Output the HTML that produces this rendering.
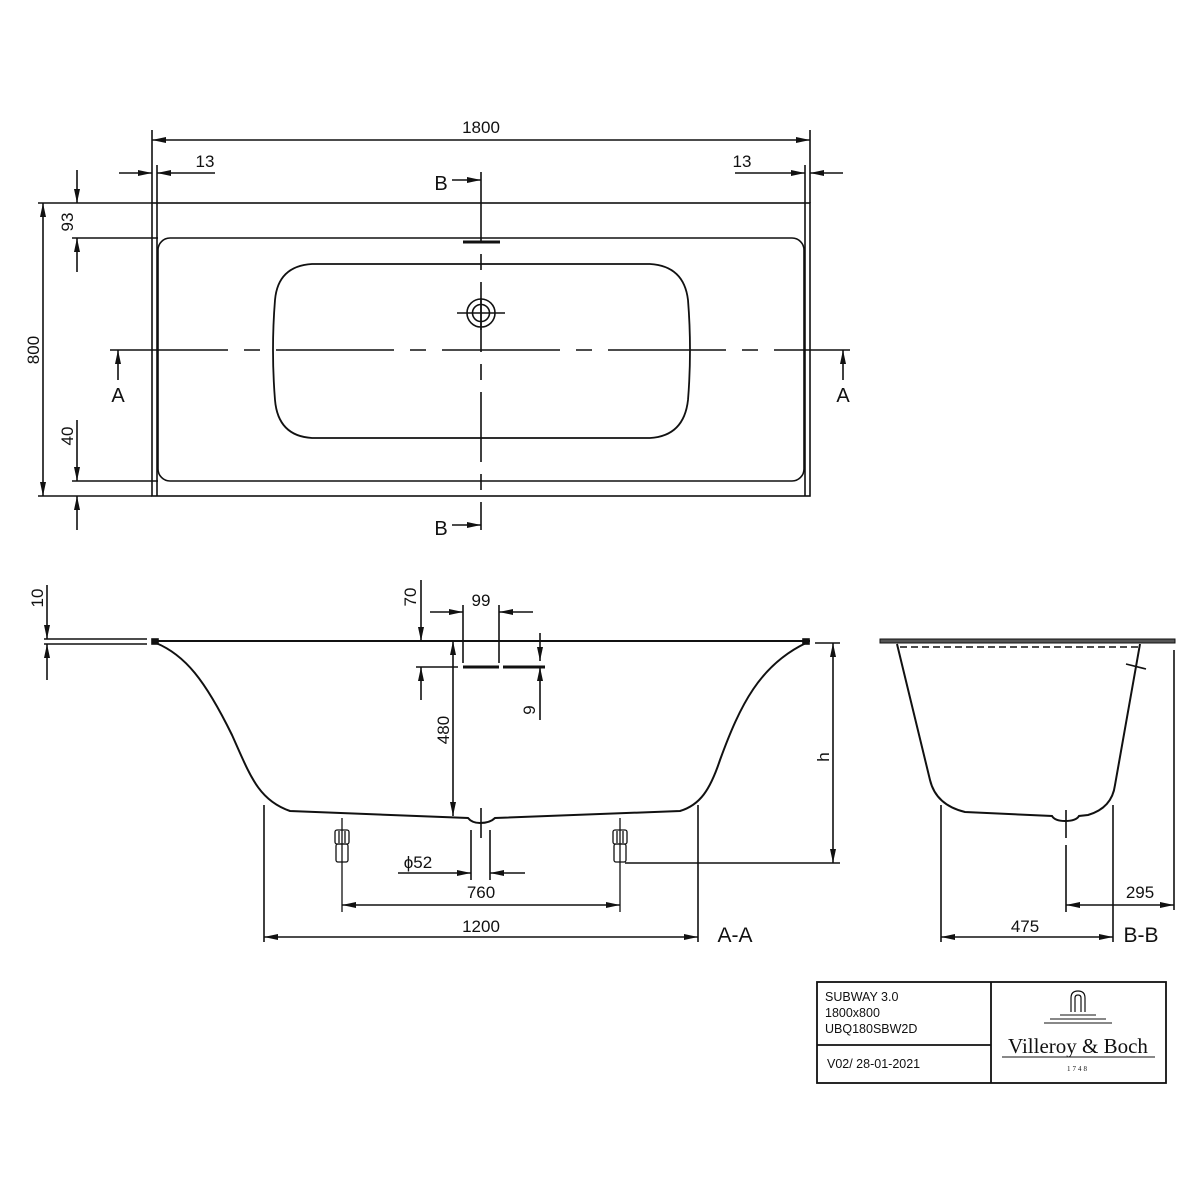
<!DOCTYPE html>
<html><head><meta charset="utf-8"><style>
html,body{margin:0;padding:0;background:#fff;}
svg{display:block}
text{font-family:"Liberation Sans",sans-serif;fill:#111;}
</style></head><body>
<svg width="1200" height="1200" viewBox="0 0 1200 1200" xmlns="http://www.w3.org/2000/svg">
<defs>
<marker id="a" viewBox="0 0 14 6" refX="14" refY="3" markerWidth="14" markerHeight="6" markerUnits="userSpaceOnUse" orient="auto-start-reverse"><path d="M0,0 L14,3 L0,6 z" fill="#111"/></marker>
</defs>
<g stroke="#111" stroke-width="1.6" fill="none">
<!-- TOP VIEW -->
<rect x="152" y="203" width="658" height="293"/>
<line x1="157" y1="203" x2="157" y2="496"/>
<line x1="805" y1="203" x2="805" y2="496"/>
<rect x="158" y="238" width="646" height="243" rx="12"/>
<path d="M312,264 L650,264 Q684,266 688,300 Q692,350 688,400 Q684,436 650,438 L312,438 Q278,436 275,400 Q271,350 275,300 Q278,266 312,264 Z" stroke-width="1.8"/>
<line x1="110" y1="350" x2="850" y2="350" stroke-dasharray="118,16,16,16"/>
<line x1="481" y1="172" x2="481" y2="530" stroke-dasharray="70,12,16,12"/>
<line x1="463" y1="242" x2="500" y2="242" stroke-width="3"/>
<circle cx="481" cy="313" r="14"/><circle cx="481" cy="313" r="8.5"/>
<line x1="457" y1="313" x2="505" y2="313"/><line x1="481" y1="298" x2="481" y2="330"/>
<line x1="452" y1="180" x2="481" y2="180" marker-end="url(#a)"/>
<line x1="452" y1="525" x2="481" y2="525" marker-end="url(#a)"/>
<line x1="118" y1="380" x2="118" y2="350" marker-end="url(#a)"/>
<line x1="843" y1="380" x2="843" y2="350" marker-end="url(#a)"/>
<line x1="152" y1="130" x2="152" y2="203"/><line x1="810" y1="130" x2="810" y2="203"/>
<line x1="152" y1="140" x2="810" y2="140" marker-start="url(#a)" marker-end="url(#a)"/>
<line x1="157" y1="165" x2="157" y2="203"/><line x1="805" y1="165" x2="805" y2="203"/>
<line x1="119" y1="173" x2="152" y2="173" marker-end="url(#a)"/><line x1="215" y1="173" x2="157" y2="173" marker-end="url(#a)"/>
<line x1="735" y1="173" x2="805" y2="173" marker-end="url(#a)"/><line x1="843" y1="173" x2="810" y2="173" marker-end="url(#a)"/>
<line x1="38" y1="203" x2="152" y2="203"/><line x1="38" y1="496" x2="152" y2="496"/>
<line x1="43" y1="203" x2="43" y2="496" marker-start="url(#a)" marker-end="url(#a)"/>
<line x1="72" y1="238" x2="158" y2="238"/><line x1="72" y1="481" x2="158" y2="481"/>
<line x1="77" y1="170" x2="77" y2="203" marker-end="url(#a)"/><line x1="77" y1="272" x2="77" y2="238" marker-end="url(#a)"/>
<line x1="77" y1="420" x2="77" y2="481" marker-end="url(#a)"/><line x1="77" y1="530" x2="77" y2="496" marker-end="url(#a)"/>

<!-- SECTION A-A -->
<line x1="44" y1="639" x2="147" y2="639"/><line x1="44" y1="644" x2="147" y2="644"/>
<line x1="152" y1="641" x2="810" y2="641" stroke-width="2"/>
<rect x="152" y="639" width="6" height="5" fill="#111"/><rect x="803" y="639" width="6" height="5" fill="#111"/>
<path d="M156,643 C185,655 205,680 232,735 C250,775 258,800 290,811 L468,818 Q472,823 480,823 Q490,823 495,818 L680,811 C700,805 710,790 720,760 C740,705 760,665 806,643" stroke-width="2"/>
<line x1="481" y1="808" x2="481" y2="838"/>
<line x1="471" y1="830" x2="471" y2="880"/><line x1="490" y1="830" x2="490" y2="880"/>
<line x1="398" y1="873" x2="471" y2="873" marker-end="url(#a)"/><line x1="525" y1="873" x2="490" y2="873" marker-end="url(#a)"/>
<g stroke-width="1.3">
<line x1="342" y1="818" x2="342" y2="912"/><line x1="620" y1="818" x2="620" y2="912"/>
<rect x="335" y="830" width="14" height="14" rx="2"/><rect x="336" y="844" width="12" height="18" rx="2"/>
<line x1="339" y1="831" x2="339" y2="843"/><line x1="345" y1="831" x2="345" y2="843"/>
<rect x="613" y="830" width="14" height="14" rx="2"/><rect x="614" y="844" width="12" height="18" rx="2"/>
<line x1="617" y1="831" x2="617" y2="843"/><line x1="623" y1="831" x2="623" y2="843"/>
</g>
<line x1="342" y1="905" x2="620" y2="905" marker-start="url(#a)" marker-end="url(#a)"/>
<line x1="264" y1="805" x2="264" y2="942"/><line x1="698" y1="805" x2="698" y2="942"/>
<line x1="264" y1="937" x2="698" y2="937" marker-start="url(#a)" marker-end="url(#a)"/>
<line x1="625" y1="863" x2="840" y2="863"/><line x1="815" y1="643" x2="840" y2="643"/>
<line x1="833" y1="643" x2="833" y2="863" marker-start="url(#a)" marker-end="url(#a)"/>
<line x1="47" y1="585" x2="47" y2="639" marker-end="url(#a)"/><line x1="47" y1="680" x2="47" y2="644" marker-end="url(#a)"/>
<line x1="421" y1="580" x2="421" y2="641" marker-end="url(#a)"/><line x1="421" y1="700" x2="421" y2="667" marker-end="url(#a)"/>
<line x1="416" y1="667" x2="458" y2="667"/>
<line x1="463" y1="605" x2="463" y2="663"/><line x1="499" y1="605" x2="499" y2="663"/>
<line x1="430" y1="612" x2="463" y2="612" marker-end="url(#a)"/><line x1="533" y1="612" x2="499" y2="612" marker-end="url(#a)"/>
<line x1="463" y1="667" x2="499" y2="667" stroke-width="3"/><line x1="503" y1="667" x2="545" y2="667" stroke-width="3"/>
<line x1="540" y1="633" x2="540" y2="661" marker-end="url(#a)"/><line x1="540" y1="720" x2="540" y2="667" marker-end="url(#a)"/>
<line x1="453" y1="641" x2="453" y2="816" marker-start="url(#a)" marker-end="url(#a)"/>

<!-- SECTION B-B -->
<rect x="880" y="639" width="295" height="4" fill="#555" stroke-width="1"/>
<line x1="900" y1="647" x2="1142" y2="647" stroke-dasharray="7,4" stroke-width="1.4"/>
<path d="M897,644 L930,780 Q936,805 965,812 L1052,816 Q1055,821 1065,821 Q1076,821 1079,816 L1088,815 Q1112,808 1115,785 L1140,644" stroke-width="2"/>
<line x1="1126" y1="664" x2="1146" y2="669"/>
<line x1="1066" y1="810" x2="1066" y2="838"/>
<line x1="1066" y1="845" x2="1066" y2="912"/>
<line x1="1174" y1="650" x2="1174" y2="910"/>
<line x1="1066" y1="905" x2="1174" y2="905" marker-start="url(#a)" marker-end="url(#a)"/>
<line x1="941" y1="805" x2="941" y2="942"/><line x1="1113" y1="805" x2="1113" y2="942"/>
<line x1="941" y1="937" x2="1113" y2="937" marker-start="url(#a)" marker-end="url(#a)"/>

<!-- title block -->
<rect x="817" y="982" width="349" height="101" stroke-width="1.8"/>
<line x1="991" y1="982" x2="991" y2="1083" stroke-width="1.8"/>
<line x1="817" y1="1045" x2="991" y2="1045" stroke-width="1.8"/>
<path d="M1071,1012 L1071,998 Q1071,991 1078,991 Q1085,991 1085,998 L1085,1012 M1075,1012 L1075,998 Q1075,995 1078,995 Q1081,995 1081,998 L1081,1012" stroke-width="1.2"/>
<line x1="1060" y1="1015" x2="1096" y2="1015" stroke-width="1"/>
<line x1="1050" y1="1019" x2="1106" y2="1019" stroke-width="1"/>
<line x1="1044" y1="1023" x2="1112" y2="1023" stroke-width="1"/>
<line x1="1002" y1="1057" x2="1155" y2="1057" stroke-width="1"/>
</g>
<g font-size="17">
<text x="481" y="133" text-anchor="middle">1800</text>
<text x="205" y="167" text-anchor="middle">13</text>
<text x="742" y="167" text-anchor="middle">13</text>
<text x="441" y="190" text-anchor="middle" font-size="20">B</text>
<text x="441" y="535" text-anchor="middle" font-size="20">B</text>
<text x="118" y="402" text-anchor="middle" font-size="20">A</text>
<text x="843" y="402" text-anchor="middle" font-size="20">A</text>
<text transform="translate(39,350) rotate(-90)" text-anchor="middle">800</text>
<text transform="translate(73,222) rotate(-90)" text-anchor="middle">93</text>
<text transform="translate(73,436) rotate(-90)" text-anchor="middle">40</text>
<text transform="translate(43,598) rotate(-90)" text-anchor="middle">10</text>
<text transform="translate(416,597) rotate(-90)" text-anchor="middle">70</text>
<text x="481" y="606" text-anchor="middle">99</text>
<text transform="translate(535,710) rotate(-90)" text-anchor="middle">9</text>
<text transform="translate(449,730) rotate(-90)" text-anchor="middle">480</text>
<text transform="translate(829,757) rotate(-90)" text-anchor="middle">h</text>
<text x="418" y="868" text-anchor="middle">ϕ52</text>
<text x="481" y="898" text-anchor="middle">760</text>
<text x="481" y="932" text-anchor="middle">1200</text>
<text x="735" y="942" text-anchor="middle" font-size="21">A-A</text>
<text x="1140" y="898" text-anchor="middle">295</text>
<text x="1025" y="932" text-anchor="middle">475</text>
<text x="1141" y="942" text-anchor="middle" font-size="21">B-B</text>
</g>
<g font-size="12.5">
<text x="825" y="1001">SUBWAY 3.0</text>
<text x="825" y="1017">1800x800</text>
<text x="825" y="1033">UBQ180SBW2D</text>
<text x="827" y="1068">V02/ 28-01-2021</text>
</g>
<text x="1078" y="1053" text-anchor="middle" style="font-family:'Liberation Serif',serif;font-size:21px">Villeroy &amp; Boch</text>
<text x="1078" y="1071" text-anchor="middle" style="font-family:'Liberation Serif',serif;font-size:7px;letter-spacing:2px">1748</text>
</svg>
</body></html>
